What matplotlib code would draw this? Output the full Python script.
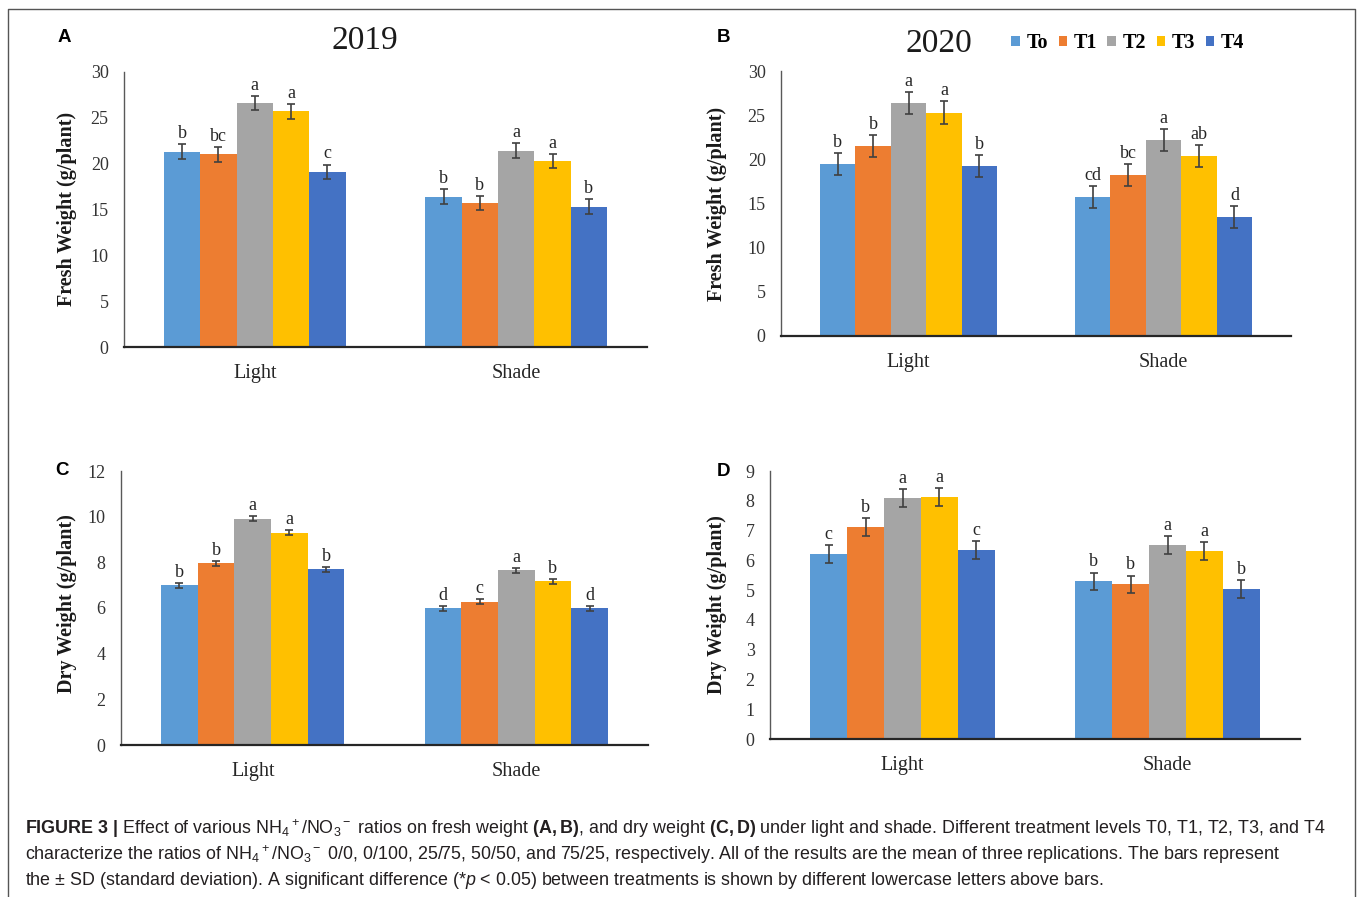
import numpy as np
import matplotlib
matplotlib.use('Agg')
import matplotlib.pyplot as plt
from matplotlib.patches import Patch
from matplotlib.lines import Line2D

# canvas size in pixels
W, H = 1357, 897

treatments = ['To', 'T1', 'T2', 'T3', 'T4']
colors = ['#5B9BD5', '#ED7D31', '#A5A5A5', '#FFC000', '#4472C4']
groups = ['Light', 'Shade']

# fresh weight 2019 (panel A)
fw19_light = [21.3, 21.0, 26.6, 25.7, 19.1]
fw19_shade = [16.4, 15.7, 21.4, 20.3, 15.3]
fw19_sd = [0.8, 0.8, 0.8, 0.8, 0.8]
fw19_letters = [['b', 'bc', 'a', 'a', 'c'], ['b', 'b', 'a', 'a', 'b']]

# fresh weight 2020 (panel B)
fw20_light = [19.5, 21.5, 26.4, 25.3, 19.2]
fw20_shade = [15.7, 18.2, 22.2, 20.4, 13.5]
fw20_sd = [1.25, 1.25, 1.25, 1.25, 1.25]
fw20_letters = [['b', 'b', 'a', 'a', 'b'], ['cd', 'bc', 'a', 'ab', 'd']]

# dry weight 2019 (panel C)
dw19_light = [7.0, 7.95, 9.9, 9.3, 7.7]
dw19_shade = [5.98, 6.27, 7.66, 7.17, 5.98]
dw19_sd = [0.11, 0.11, 0.11, 0.11, 0.11]
dw19_letters = [['b', 'b', 'a', 'a', 'b'], ['d', 'c', 'a', 'b', 'd']]

# dry weight 2020 (panel D)
dw20_light = [6.2, 7.13, 8.1, 8.12, 6.35]
dw20_shade = [5.29, 5.19, 6.51, 6.31, 5.04]
dw20_sd = [0.3, 0.3, 0.3, 0.3, 0.3]
dw20_letters = [['c', 'b', 'a', 'a', 'c'], ['b', 'b', 'a', 'a', 'b']]

plt.rcParams['font.family'] = ['Liberation Serif', 'DejaVu Serif']
plt.rcParams['mathtext.fontset'] = 'custom'
plt.rcParams['mathtext.rm'] = 'Liberation Sans'
plt.rcParams['mathtext.it'] = 'Liberation Sans:italic'
plt.rcParams['mathtext.bf'] = 'Liberation Sans:bold'

fig = plt.figure(figsize=(W / 100, H / 100), dpi=100)


def px_rect(x0, y0, x1, y1):
    return [x0 / W, 1 - y1 / H, (x1 - x0) / W, (y1 - y0) / H]


def fx(x):
    return x / W


def fy(y):
    return 1 - y / H


def panel(box, light, shade, sd, letters, ymax, ystep):
    ax = fig.add_axes(px_rect(*box))
    bw = 0.139
    base = np.arange(len(groups))
    for i in range(len(treatments)):
        vals = [light[i], shade[i]]
        xs = base + (i - 2) * bw
        ax.bar(xs, vals, width=bw, color=colors[i], edgecolor='none', zorder=2)
        ax.errorbar(xs, vals, yerr=sd[i], fmt='none', ecolor='#404040',
                    elinewidth=1.2, capsize=3, capthick=1.2, zorder=3)
        for g in range(2):
            ax.annotate(letters[g][i], (xs[g], vals[g] + sd[i]), xytext=(0, 1.5),
                        textcoords='offset points', ha='center', va='bottom',
                        fontsize=13, color='#262626')
    ax.set_xlim(-0.5, 1.5)
    ax.set_ylim(0, ymax)
    ax.set_yticks(np.arange(0, ymax + ystep / 2, ystep))
    ax.set_xticks(base)
    ax.set_xticklabels(groups, fontsize=14.5)
    ax.tick_params(axis='y', length=0, pad=11, labelsize=13, labelcolor='#333333')
    ax.tick_params(axis='x', length=0, pad=12, labelcolor='#262626')
    for s in ['top', 'right']:
        ax.spines[s].set_visible(False)
    ax.spines['left'].set_color('#595959')
    ax.spines['left'].set_linewidth(1.0)
    ax.spines['bottom'].set_color('#262626')
    ax.spines['bottom'].set_linewidth(1.6)
    return ax


axA = panel((124, 72, 647, 347), fw19_light, fw19_shade, fw19_sd, fw19_letters, 30, 5)
axB = panel((781, 71, 1291, 336), fw20_light, fw20_shade, fw20_sd, fw20_letters, 30, 5)
axC = panel((121, 471, 648, 745), dw19_light, dw19_shade, dw19_sd, dw19_letters, 12, 2)
axD = panel((770, 471, 1300, 739), dw20_light, dw20_shade, dw20_sd, dw20_letters, 9, 1)

# y-axis titles
for (x, y, t) in [(67, 209, 'Fresh Weight (g/plant)'), (717, 204, 'Fresh Weight (g/plant)'),
                  (67, 604, 'Dry Weight (g/plant)'), (717, 605, 'Dry Weight (g/plant)')]:
    fig.text(fx(x), fy(y), t, rotation=90, ha='center', va='center',
             fontsize=14.5, fontweight='bold', color='#1a1a1a')

# year titles
fig.text(fx(365), fy(41), '2019', ha='center', va='center', fontsize=24, color='#1a1a1a')
fig.text(fx(939), fy(44), '2020', ha='center', va='center', fontsize=24, color='#1a1a1a')

# panel letters
for (x, y, t) in [(64, 37, 'A'), (723, 37, 'B'), (62, 470, 'C'), (723, 471, 'D')]:
    fig.text(fx(x), fy(y), t, ha='center', va='center', fontsize=13.5,
             fontweight='bold', family=['Liberation Sans', 'DejaVu Sans'])

# legend
handles = [Patch(facecolor=c, edgecolor='none') for c in colors]
fig.legend(handles, treatments, loc='center', bbox_to_anchor=(fx(1128), fy(43)),
           ncol=5, frameon=False, handlelength=0.42, handleheight=0.42,
           handletextpad=0.35, columnspacing=0.5, borderpad=0,
           prop={'family': 'Liberation Serif', 'weight': 'bold', 'size': 14.5})

# outer frame
fig.add_artist(Line2D([fx(8), fx(8), fx(1355), fx(1355)], [0, fy(9), fy(9), 0],
                      transform=fig.transFigure, color='#555555', lw=1.0))

# caption
cap_font = ['Liberation Sans', 'DejaVu Sans']
cap_lines = [
    r'$\mathbf{FIGURE\ 3\ |}$ Effect of various NH$_4$$^+$/NO$_3$$^-$ ratios on fresh weight '
    r'$\mathbf{(A,B)}$, and dry weight $\mathbf{(C,D)}$ under light and shade. Different '
    r'treatment levels T0, T1, T2, T3, and T4',
    r'characterize the ratios of NH$_4$$^+$/NO$_3$$^-$ 0/0, 0/100, 25/75, 50/50, and 75/25, '
    r'respectively. All of the results are the mean of three replications. The bars represent',
    r'the ± SD (standard deviation). A significant difference (*$p$ < 0.05) between treatments '
    r'is shown by different lowercase letters above bars.',
]
for k, line in enumerate(cap_lines):
    fig.text(fx(25), fy(829 + k * 25.5), line, ha='left', va='center',
             fontsize=12.9, family=cap_font, color='#231f20')

fig.savefig('out.png', dpi=100)
